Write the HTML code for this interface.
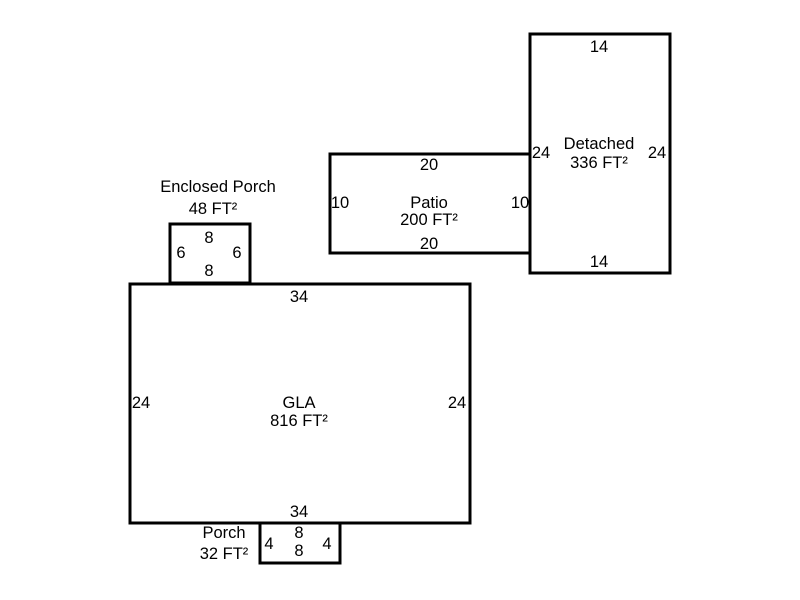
<!DOCTYPE html>
<html><head><meta charset="utf-8"><style>
html,body{margin:0;padding:0;background:#fff;}
svg{display:block;}
text{font-family:"Liberation Sans",Arial,sans-serif;font-size:16.5px;fill:#000;text-anchor:middle;dominant-baseline:central;}
rect{fill:none;stroke:#000;stroke-width:3;}
</style></head><body>
<svg width="800" height="600" viewBox="0 0 800 600">
<rect x="530" y="34" width="140" height="239"/>
<rect x="330" y="154" width="200" height="99"/>
<rect x="170" y="224" width="80" height="59"/>
<rect x="130" y="284" width="340" height="239"/>
<rect x="260" y="523" width="80" height="40"/>
<g transform="translate(0,1)">
<text x="599" y="46">14</text>
<text x="599" y="143">Detached</text>
<text x="599" y="162">336 FT²</text>
<text x="541" y="152">24</text>
<text x="657" y="152">24</text>
<text x="599" y="261">14</text>

<text x="429" y="164">20</text>
<text x="429" y="202">Patio</text>
<text x="429" y="219">200 FT²</text>
<text x="340" y="202">10</text>
<text x="520" y="202">10</text>
<text x="429" y="243">20</text>

<text x="218" y="186">Enclosed Porch</text>
<text x="213" y="208">48 FT²</text>
<text x="209" y="237">8</text>
<text x="181" y="252">6</text>
<text x="237" y="252">6</text>
<text x="209" y="270">8</text>

<text x="299" y="296">34</text>
<text x="141" y="402">24</text>
<text x="457" y="402">24</text>
<text x="299" y="402">GLA</text>
<text x="299" y="420">816 FT²</text>
<text x="299" y="511">34</text>

<text x="224" y="532">Porch</text>
<text x="224" y="553">32 FT²</text>
<text x="299" y="532">8</text>
<text x="299" y="550">8</text>
<text x="269" y="543">4</text>
<text x="327" y="543">4</text>
</g>
</svg>
</body></html>
